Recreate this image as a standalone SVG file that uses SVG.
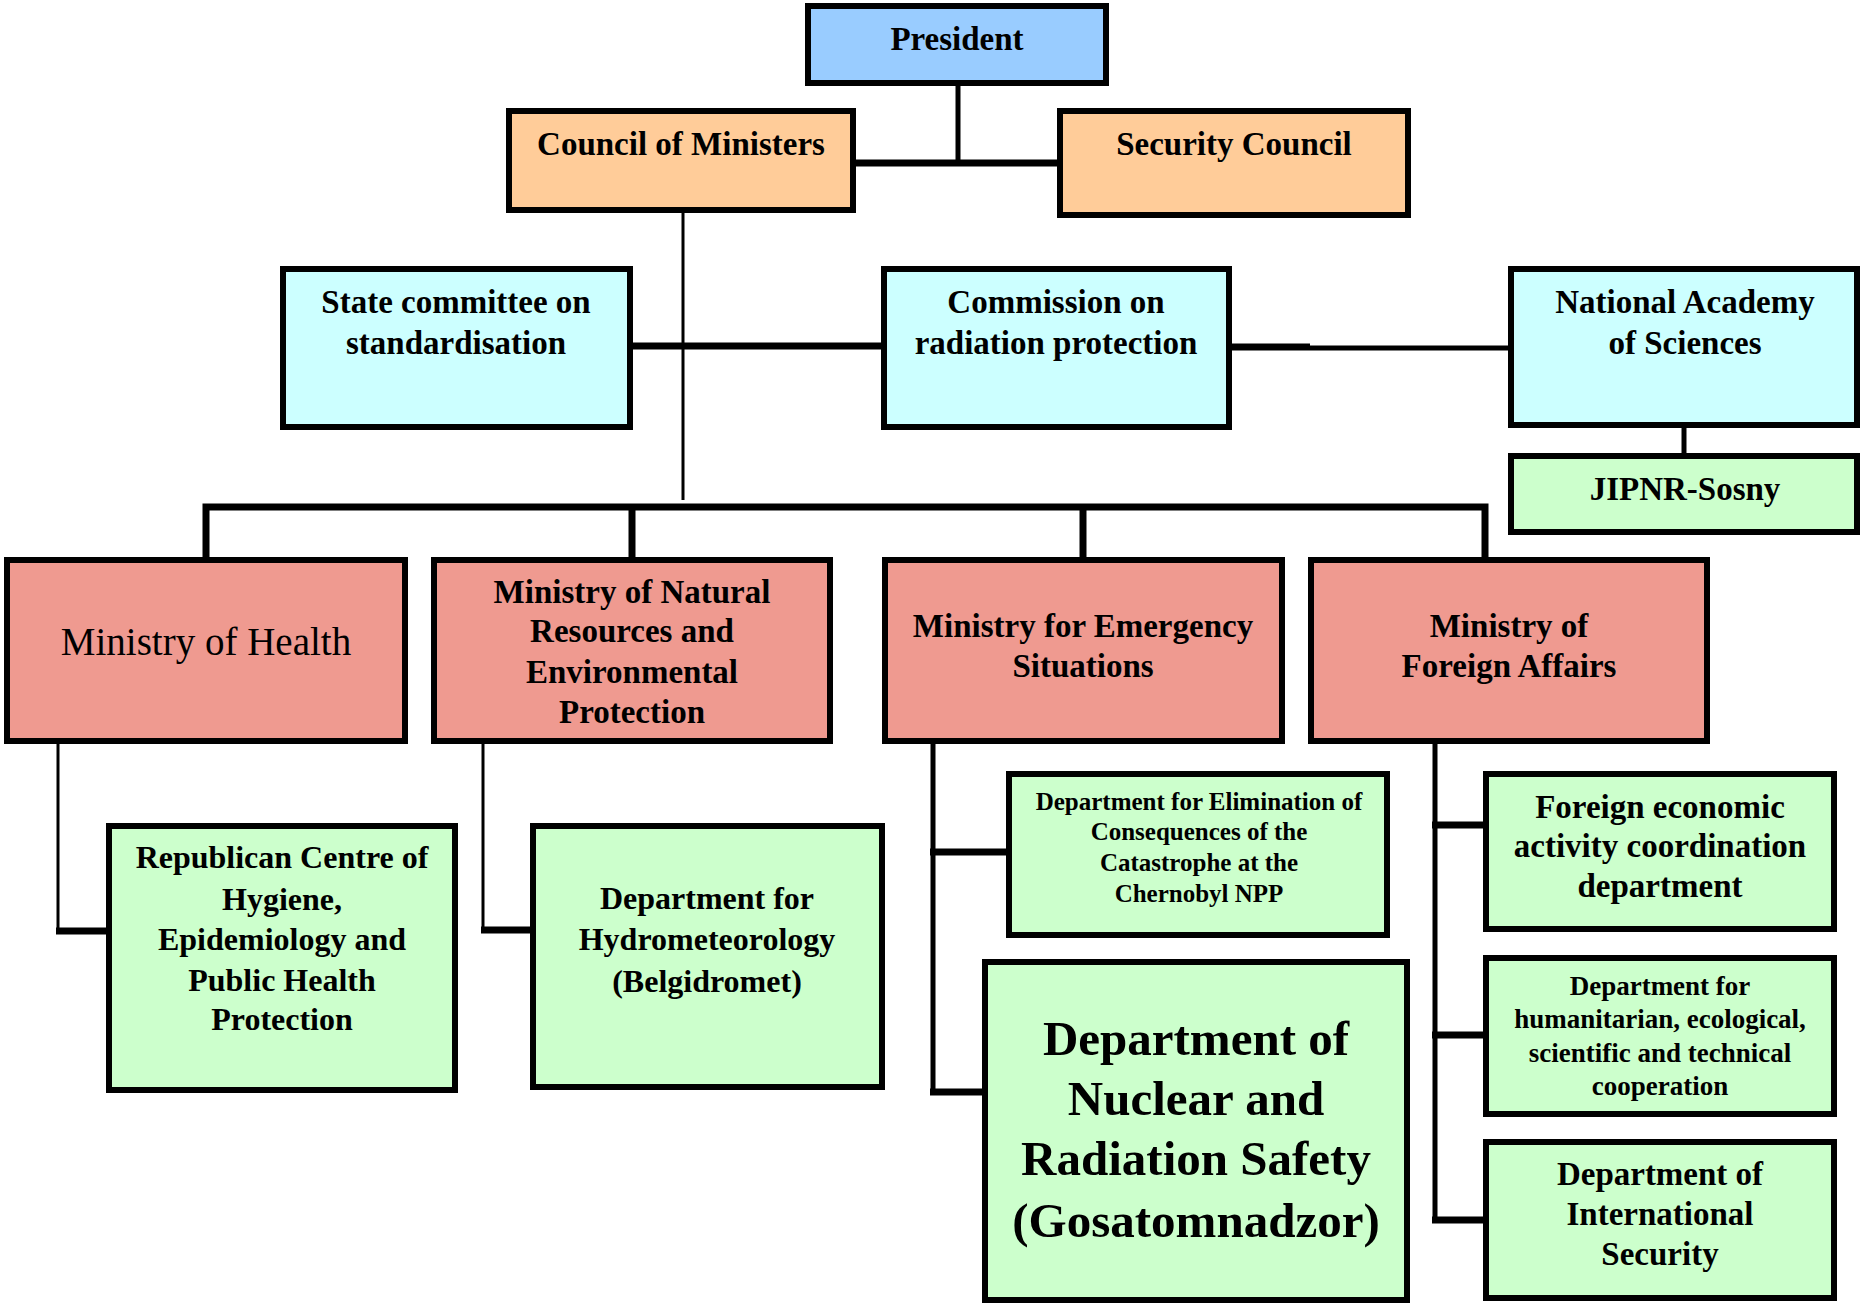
<svg xmlns="http://www.w3.org/2000/svg" width="1860" height="1305" viewBox="0 0 1860 1305">
<style>
.b{stroke:#000;stroke-width:6}
.blue{fill:#99CCFF}.org{fill:#FFCC99}.cyan{fill:#CCFFFF}.red{fill:#EF9A90}.grn{fill:#CCFFCC}
text{font-family:"Liberation Serif","Times New Roman",serif;font-weight:bold;fill:#000;text-anchor:middle}
.t33{font-size:33px}.t25{font-size:25px}.t27{font-size:27px}.t32{font-size:32px}.t49{font-size:49px}
.reg{font-weight:normal;font-size:39px}
.c{fill:none;stroke:#000;stroke-linecap:butt}
.k{stroke-width:7}.m{stroke-width:5}.n{stroke-width:3}
</style>
<rect width="1860" height="1305" fill="#fff"/>
<g id="connectors">
<path class="c m" d="M958 86V163"/>
<path class="c k" d="M856 163H1057"/>
<path class="c n" d="M683 213V500"/>
<path class="c k" d="M633 346H881"/>
<path class="c k" d="M1232 347H1310"/>
<path class="c m" d="M1310 348H1508"/>
<path class="c m" d="M1684 428V453"/>
<path class="c k" d="M206 557V507H1485V563"/>
<path class="c k" d="M632 507V557"/>
<path class="c k" d="M1083 507V557"/>
<path class="c n" d="M58 744V931"/>
<path class="c k" d="M56 931H106"/>
<path class="c n" d="M483 744V930"/>
<path class="c k" d="M481 930H530"/>
<path class="c m" d="M933 743V1092"/>
<path class="c k" d="M930 852H1006"/>
<path class="c k" d="M930 1092H982"/>
<path class="c m" d="M1435 743V1220"/>
<path class="c k" d="M1432 825H1483"/>
<path class="c k" d="M1432 1035H1483"/>
<path class="c k" d="M1432 1220H1483"/>
</g>
<g id="president"><rect class="b blue" x="808" y="6" width="298" height="77"/><text class="t33" x="957" y="50">President</text></g>
<g id="council"><rect class="b org" x="509" y="111" width="344" height="99"/><text class="t33" x="681" y="155">Council of Ministers</text></g>
<g id="security"><rect class="b org" x="1060" y="111" width="348" height="104"/><text class="t33" x="1234" y="155">Security Council</text></g>
<g id="state"><rect class="b cyan" x="283" y="269" width="347" height="158"/><text class="t33" x="456" y="313">State committee on</text><text class="t33" x="456" y="354">standardisation</text></g>
<g id="commission"><rect class="b cyan" x="884" y="269" width="345" height="158"/><text class="t33" x="1056" y="313">Commission on</text><text class="t33" x="1056" y="354">radiation protection</text></g>
<g id="academy"><rect class="b cyan" x="1511" y="269" width="346" height="156"/><text class="t33" x="1685" y="313">National Academy</text><text class="t33" x="1685" y="354">of Sciences</text></g>
<g id="jipnr"><rect class="b grn" x="1511" y="456" width="346" height="76"/><text class="t33" x="1685" y="500">JIPNR-Sosny</text></g>
<g id="health"><rect class="b red" x="7" y="560" width="398" height="181"/><text class="reg" x="206" y="655">Ministry of Health</text></g>
<g id="natural"><rect class="b red" x="434" y="560" width="396" height="181"/><text class="t33" x="632" y="603">Ministry of Natural</text><text class="t33" x="632" y="642">Resources and</text><text class="t33" x="632" y="683">Environmental</text><text class="t33" x="632" y="723">Protection</text></g>
<g id="emergency"><rect class="b red" x="885" y="560" width="397" height="181"/><text class="t33" x="1083" y="637">Ministry for Emergency</text><text class="t33" x="1083" y="677">Situations</text></g>
<g id="foreign"><rect class="b red" x="1311" y="560" width="396" height="181"/><text class="t33" x="1509" y="637">Ministry of</text><text class="t33" x="1509" y="677">Foreign Affairs</text></g>
<g id="republican"><rect class="b grn" x="109" y="826" width="346" height="264"/><text class="t32" x="282" y="868">Republican Centre of</text><text class="t32" x="282" y="910">Hygiene,</text><text class="t32" x="282" y="950">Epidemiology and</text><text class="t32" x="282" y="991">Public Health</text><text class="t32" x="282" y="1030">Protection</text></g>
<g id="belgidromet"><rect class="b grn" x="533" y="826" width="349" height="261"/><text class="t32" x="707" y="909">Department for</text><text class="t32" x="707" y="950">Hydrometeorology</text><text class="t32" x="707" y="992">(Belgidromet)</text></g>
<g id="elimination"><rect class="b grn" x="1009" y="774" width="378" height="161"/><text class="t25" x="1199" y="810">Department for Elimination of</text><text class="t25" x="1199" y="840">Consequences of the</text><text class="t25" x="1199" y="871">Catastrophe at the</text><text class="t25" x="1199" y="902">Chernobyl NPP</text></g>
<g id="gosatomnadzor"><rect class="b grn" x="985" y="962" width="422" height="338"/><text class="t49" x="1196" y="1055">Department of</text><text class="t49" x="1196" y="1115">Nuclear and</text><text class="t49" x="1196" y="1175">Radiation Safety</text><text class="t49" x="1196" y="1237">(Gosatomnadzor)</text></g>
<g id="foreign-economic"><rect class="b grn" x="1486" y="774" width="348" height="155"/><text class="t33" x="1660" y="818">Foreign economic</text><text class="t33" x="1660" y="857">activity coordination</text><text class="t33" x="1660" y="897">department</text></g>
<g id="humanitarian"><rect class="b grn" x="1486" y="958" width="348" height="156"/><text class="t27" x="1660" y="995">Department for</text><text class="t27" x="1660" y="1028">humanitarian, ecological,</text><text class="t27" x="1660" y="1062">scientific and technical</text><text class="t27" x="1660" y="1095">cooperation</text></g>
<g id="intl-security"><rect class="b grn" x="1486" y="1142" width="348" height="156"/><text class="t33" x="1660" y="1185">Department of</text><text class="t33" x="1660" y="1225">International</text><text class="t33" x="1660" y="1265">Security</text></g>
</svg>
